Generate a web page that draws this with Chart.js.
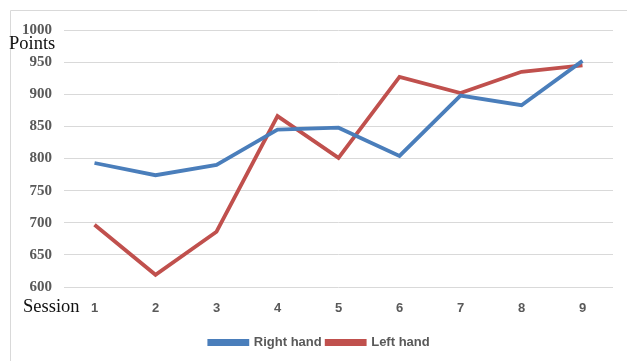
<!DOCTYPE html>
<html>
<head>
<meta charset="utf-8">
<script src="https://cdn.jsdelivr.net/npm/chart.js@4/dist/chart.umd.min.js"></script>
<style>
  html, body { margin: 0; padding: 0; background: #ffffff; }
  #wrap { width: 627px; height: 361px; }
</style>
</head>
<body>
<div id="wrap"><canvas id="chart" width="627" height="361"></canvas></div>
<script>
// Session numbers along the horizontal axis
const sessions = ['1', '2', '3', '4', '5', '6', '7', '8', '9'];
// Points scored per session
const rightHand = [793, 774, 790, 845, 848, 804, 898, 883, 952];
const leftHand  = [697, 619, 686, 866, 801, 927, 902, 935, 945];
// Vertical scale
const yMin = 600;
const yMax = 1000;
const yStep = 50;

// Light frame on the left and top edges plus the axis captions
const decorations = {
  id: 'decorations',
  afterLayout(chart) {
    // centre the legend under the plot area rather than the whole canvas
    const lg = chart.legend;
    if (lg) {
      const shift = 8;
      lg.left += shift;
      lg.right += shift;
    }
  },
  afterDraw(chart) {
    const ctx = chart.ctx;
    ctx.save();
    ctx.strokeStyle = '#d9d9d9';
    ctx.lineWidth = 1;
    ctx.beginPath();
    ctx.moveTo(10.5, 361);
    ctx.lineTo(10.5, 10.5);
    ctx.lineTo(627, 10.5);
    ctx.stroke();

    ctx.fillStyle = '#111111';
    ctx.font = '18.5px "Liberation Serif", "Times New Roman", serif';
    ctx.textAlign = 'left';
    ctx.textBaseline = 'middle';
    ctx.fillText('Points', 9, 44);
    ctx.fillText('Session', 23, 307);
    ctx.restore();
  }
};

new Chart(document.getElementById('chart'), {
  type: 'line',
  data: {
    labels: sessions,
    datasets: [
      {
        label: 'Right hand',
        data: rightHand,
        borderColor: '#4a7ebb',
        backgroundColor: '#4a7ebb',
        borderWidth: 3.8,
        pointRadius: 0,
        tension: 0
      },
      {
        label: 'Left hand',
        data: leftHand,
        borderColor: '#c0504d',
        backgroundColor: '#c0504d',
        borderWidth: 3.8,
        pointRadius: 0,
        tension: 0
      }
    ]
  },
  options: {
    responsive: false,
    animation: false,
    layout: { padding: { left: 10, right: 14, top: 30, bottom: 2 } },
    plugins: {
      tooltip: { enabled: false },
      legend: {
        position: 'bottom',
        labels: {
          boxWidth: 38,
          boxHeight: 3,
          padding: 5,
          color: '#595959',
          font: { family: '"Liberation Sans", Arial, sans-serif', size: 13, weight: 'bold' }
        }
      }
    },
    scales: {
      x: {
        offset: true,
        grid: { display: false, drawTicks: false },
        border: { display: false },
        ticks: {
          color: '#595959',
          padding: 14,
          font: { family: '"Liberation Sans", Arial, sans-serif', size: 13, weight: 'bold' }
        },
        afterFit(scale) { scale.height = 44; }
      },
      y: {
        min: yMin,
        max: yMax,
        grid: { color: '#d9d9d9', lineWidth: 1, drawTicks: false },
        border: { display: false },
        ticks: {
          stepSize: yStep,
          color: '#595959',
          padding: 12,
          font: { family: '"Liberation Serif", "Times New Roman", serif', size: 15, weight: 'bold' },
          callback: (v) => String(v)
        },
        afterFit(scale) { scale.width = 54; }
      }
    }
  },
  plugins: [decorations]
});
</script>
</body>
</html>
